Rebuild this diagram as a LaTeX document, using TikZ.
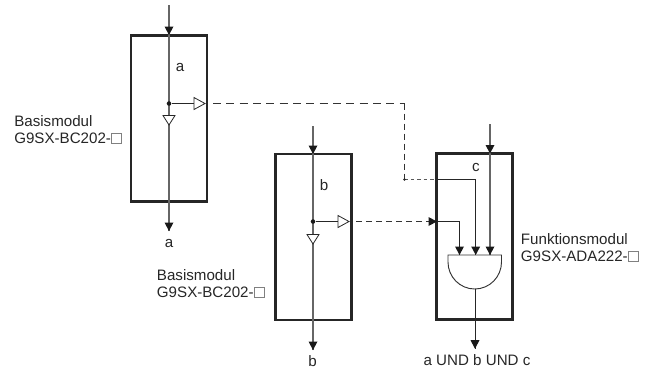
\documentclass[tikz,border=0pt]{standalone}
\usepackage{fontspec}
\setmainfont{Liberation Sans}
\usetikzlibrary{arrows.meta}
\tikzset{
  modbox/.style={draw=black!85,line width=2.2pt,fill=none,inner sep=0pt,outer sep=0pt,anchor=north west},
  sigline/.style={draw=black!60,line width=0.9pt},
  thinline/.style={draw=black!85,line width=0.7pt},
  dashlong/.style={draw=black!80,line width=0.75pt,dash pattern=on 6pt off 4pt},
  dashmid/.style={draw=black!80,line width=0.75pt,dash pattern=on 4.5pt off 3pt},
  dashshort/.style={draw=black!65,line width=0.75pt,dash pattern=on 2.6pt off 2.2pt},
  hollow/.style={draw=black!85,line width=0.6pt,fill=white},
  lbl/.style={inner sep=0pt,font=\fontsize{11.35pt}{12.6pt}\selectfont,text=black!85},
  dotn/.style={circle,fill=black!90,inner sep=0pt,minimum size=3.4pt},
}
\newcommand{\hollowsq}{\tikz[baseline=0pt]\draw[black!50,line width=0.35pt] (0,0) rectangle (7.6pt,7.6pt);}
\begin{document}
\begin{tikzpicture}[x=0.75pt,y=-0.75pt]
\useasboundingbox (0,0) rectangle (653,369);
% boxes
\node[modbox,minimum width=57pt,minimum height=124.5pt] (A) at (131,35.5) {};
\node[modbox,minimum width=57pt,minimum height=124.5pt] (B) at (275.5,154) {};
\node[modbox,minimum width=57pt,minimum height=124.5pt] (C) at (436.5,153.5) {};
% terminals
\coordinate (Ain) at (169,5);
\coordinate (Aout) at (169,231);
\coordinate (Aj) at (169,103.5);
\coordinate (Atri) at (205,103.5);
\coordinate (Adash) at (213,103.5);
\coordinate (Bin) at (313,126);
\coordinate (Bout) at (313,350);
\coordinate (Bj) at (313,221.5);
\coordinate (Btri) at (349,221.5);
\coordinate (Bdash) at (356,221.5);
\coordinate (Cin) at (490,124);
\coordinate (Cbend) at (404.5,103.5);
\coordinate (Cdash) at (404.5,179.5);
\coordinate (Cc) at (437,179.5);
\coordinate (Cb) at (437,221.5);
\coordinate (Gc) at (475.7,255);
\coordinate (Gb) at (459.5,255);
\coordinate (Gin) at (490,255);
\coordinate (Gout) at (475,289);
\coordinate (Cout) at (475,348.7);
% main lines
\draw[sigline] (Ain) -- (Aout);
\draw[sigline] (Bin) -- (Bout);
\fill[black!90] (169,35) -- ++(-4.5,-8.5) -- ++(9,0) -- cycle;
\fill[black!90] (Aout) -- ++(-4.5,-8.5) -- ++(9,0) -- cycle;
\fill[black!90] (313,154) -- ++(-4.5,-8.5) -- ++(9,0) -- cycle;
\fill[black!90] (Bout) -- ++(-4.5,-8.5) -- ++(9,0) -- cycle;
% branch A
\node[dotn] (Ad) at (Aj) {};
\draw[thinline] (Ad) -- (Atri);
\draw[hollow] (Atri) -- ++(-11,-6) -- ++(0,12) -- cycle;
\draw[hollow] (169,125) -- ++(-6,-9.5) -- ++(12,0) -- cycle;
% branch B
\node[dotn] (Bd) at (Bj) {};
\draw[thinline] (Bd) -- (Btri);
\draw[hollow] (Btri) -- ++(-11,-6) -- ++(0,12) -- cycle;
\draw[hollow] (313,244) -- ++(-6,-9.5) -- ++(12,0) -- cycle;
% dashed
\draw[dashlong] (Adash) -- (Cbend);
\draw[dashmid] (Cbend) -- (Cdash);
\draw[dashshort] (Cdash) -- (Cc);
\fill[black!85] (Cdash) circle[radius=1.3];
\draw[dashmid] (Bdash) -- (Cb);
\fill[black!90] (Cb) -- ++(-8.5,-4.5) -- ++(0,9) -- cycle;
% inside C
\draw[sigline] (Cin) -- (Gin);
\draw[thinline] (Cc) -| (Gc);
\draw[thinline] (Cb) -| (Gb);
\fill[black!90] (490,153.5) -- ++(-4.5,-8.5) -- ++(9,0) -- cycle;
\fill[black!90] (Gb) -- ++(-4.5,-8.5) -- ++(9,0) -- cycle;
\fill[black!90] (Gc) -- ++(-4.5,-8.5) -- ++(9,0) -- cycle;
\fill[black!90] (Gin) -- ++(-4.5,-8.5) -- ++(9,0) -- cycle;
% gate
\draw[draw=black!80,line width=0.7pt] (448,255) -- (501.5,255) -- (501.5,262) arc[start angle=0,end angle=180,x radius=26.75,y radius=27] -- cycle;
\draw[thinline] (Gout) -- (Cout);
\fill[black!90] (Cout) -- ++(-4.5,-8.5) -- ++(9,0) -- cycle;
% labels
\node[lbl,anchor=base] (la) at (180,71) {a};
\node[lbl,anchor=base] (lb) at (324,190) {b};
\node[lbl,anchor=base] (lc) at (476,171) {c};
\node[lbl,anchor=base] (la2) at (169,247.7) {a};
\node[lbl,anchor=base] (lb2) at (312.5,366.5) {b};
\node[lbl,anchor=base] (lr) at (477,365.7) {a UND b UND c};
\node[lbl,anchor=north west,align=left] (m1) at (14,115) {Basismodul\\G9SX-BC202-\hollowsq};
\node[lbl,anchor=north west,align=left] (m2) at (156.7,269) {Basismodul\\G9SX-BC202-\hollowsq};
\node[lbl,anchor=north west,align=left] (m3) at (520.7,233) {Funktionsmodul\\G9SX-ADA222-\hollowsq};
\end{tikzpicture}
\end{document}
